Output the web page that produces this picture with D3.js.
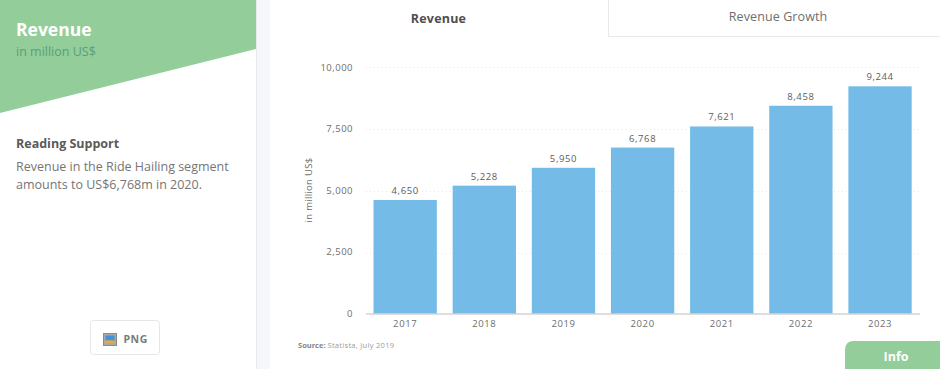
<!DOCTYPE html>
<html>
<head>
<meta charset="utf-8">
<script src="https://cdn.jsdelivr.net/npm/d3@7"></script>
<style>
html,body{margin:0;padding:0;background:#fff;overflow:hidden}
svg{display:block}
text{font-family:"Open Sans",sans-serif}
</style>
</head>
<body>
<svg id="c" width="940" height="369"></svg>
<script>
const categories = ["2017","2018","2019","2020","2021","2022","2023"];
const revenue = [4650,5228,5950,6768,7621,8458,9244];
const yTicks = [0,2500,5000,7500,10000];
const supportLines = ["Revenue in the Ride Hailing segment","amounts to US$6,768m in 2020."];

const svg = d3.select("#c");
const fmt = d3.format(",");
const baseY = 313.5;
const x = d3.scaleBand().domain(categories).range([365.6,919.6]).paddingInner(0.2).paddingOuter(0.1);
const y = d3.scaleLinear().domain([0,10000]).range([315,67.6]);
const yLabel = d3.scaleLinear().domain([0,10000]).range([313,67]);

// layout panels
svg.append("rect").attr("x",256).attr("y",0).attr("width",14).attr("height",369).attr("fill","#f6f7fb");
svg.append("rect").attr("x",256).attr("y",0).attr("width",1).attr("height",369).attr("fill","#e9eaee");
svg.append("path").attr("d","M0,0H256V49L0,113Z").attr("fill","#93cd9a");
const T=(s,px,py,size,fill,weight,anchor,ls)=>svg.append("text").text(s).attr("x",px).attr("y",py)
  .attr("font-size",size).attr("fill",fill).attr("font-weight",weight||400).attr("text-anchor",anchor||"start")
  .attr("letter-spacing",ls||0);
T("Revenue",16,36,17.5,"#ffffff",700);
T("in million US$",16,56,12.5,"#5a9f76",400);
T("Reading Support",16,148,12.5,"#5a5a5a",700);
supportLines.forEach((l,i)=>T(l,16,171+i*18,12.5,"#757575",400));

// PNG button
svg.append("rect").attr("x",90.5).attr("y",320.5).attr("width",69).attr("height",34).attr("rx",3)
  .attr("fill","#fff").attr("stroke","#e6e6e6");
svg.append("rect").attr("x",103.5).attr("y",333.5).attr("width",13).attr("height",12).attr("fill","#a9a9a9").attr("stroke","#8a8a8a");
svg.append("rect").attr("x",105.5).attr("y",335.5).attr("width",9).attr("height",5).attr("fill","#3f93dc");
svg.append("rect").attr("x",105.5).attr("y",340.5).attr("width",9).attr("height",3).attr("fill","#e8a83a");
T("PNG",123.5,343,10.5,"#7a7a7a",700,"start",0.5);

// tabs
svg.append("path").attr("d","M608.5,0V36.5H940").attr("fill","none").attr("stroke","#e8e8e8");
T("Revenue",438.5,23,12.5,"#4f4f4f",700,"middle",0.2);
T("Revenue Growth",778,21,12.5,"#6e6e6e",400,"middle",0.1);

// gridlines
svg.append("g").selectAll("line").data(yTicks.filter(d=>d>0)).join("line")
  .attr("x1",366).attr("x2",920).attr("y1",d=>Math.floor(y(d))+0.5).attr("y2",d=>Math.floor(y(d))+0.5)
  .attr("stroke","#e6e6e6").attr("stroke-dasharray","1,3");

// bars
svg.append("g").selectAll("rect").data(revenue).join("rect")
  .attr("x",(d,i)=>x(categories[i])).attr("width",x.bandwidth())
  .attr("y",d=>y(d)).attr("height",d=>baseY-y(d)).attr("fill","#74bbe8");

// value labels
svg.append("g").selectAll("text").data(revenue).join("text")
  .attr("x",(d,i)=>x(categories[i])+x.bandwidth()/2).attr("y",d=>y(d)-6)
  .attr("text-anchor","middle").attr("font-size",9.5).attr("fill","#5c5c5c").attr("letter-spacing",0.6)
  .text(d=>fmt(d));

// axes
const xAxis = svg.append("g").attr("transform",`translate(0,${baseY})`)
  .call(d3.axisBottom(x).tickSize(0).tickPadding(7));
xAxis.select(".domain").attr("stroke","#bdbdbd").attr("stroke-width",1);
xAxis.selectAll("text").attr("font-size",9.5).attr("fill","#6e6e6e").attr("letter-spacing",0.6)
  .style("font-family",'"Open Sans",sans-serif');

const yAxis = svg.append("g").attr("transform","translate(353,0)")
  .call(d3.axisLeft(yLabel).tickValues(yTicks).tickSize(0).tickPadding(0).tickFormat(fmt));
yAxis.select(".domain").remove();
yAxis.selectAll("text").attr("font-size",9.5).attr("fill","#6e6e6e").attr("letter-spacing",0.5)
  .style("font-family",'"Open Sans",sans-serif');

svg.append("text").attr("transform","translate(312,190) rotate(-90)").attr("text-anchor","middle")
  .attr("font-size",9.5).attr("fill","#6e6e6e").attr("letter-spacing",0.3).text("in million US$");

// source
const src = svg.append("text").attr("x",298).attr("y",348).attr("font-size",7.5).attr("fill","#9a9a9a");
src.append("tspan").attr("font-weight",700).attr("fill","#858585").text("Source: ");
src.append("tspan").attr("letter-spacing",0.3).text("Statista, July 2019");

// info tab
svg.append("path").attr("d","M845,369V350Q845,341 854,341H940V369Z").attr("fill","#93cd9a");
T("Info",896,361,12.5,"#ffffff",700,"middle");
</script>
</body>
</html>
